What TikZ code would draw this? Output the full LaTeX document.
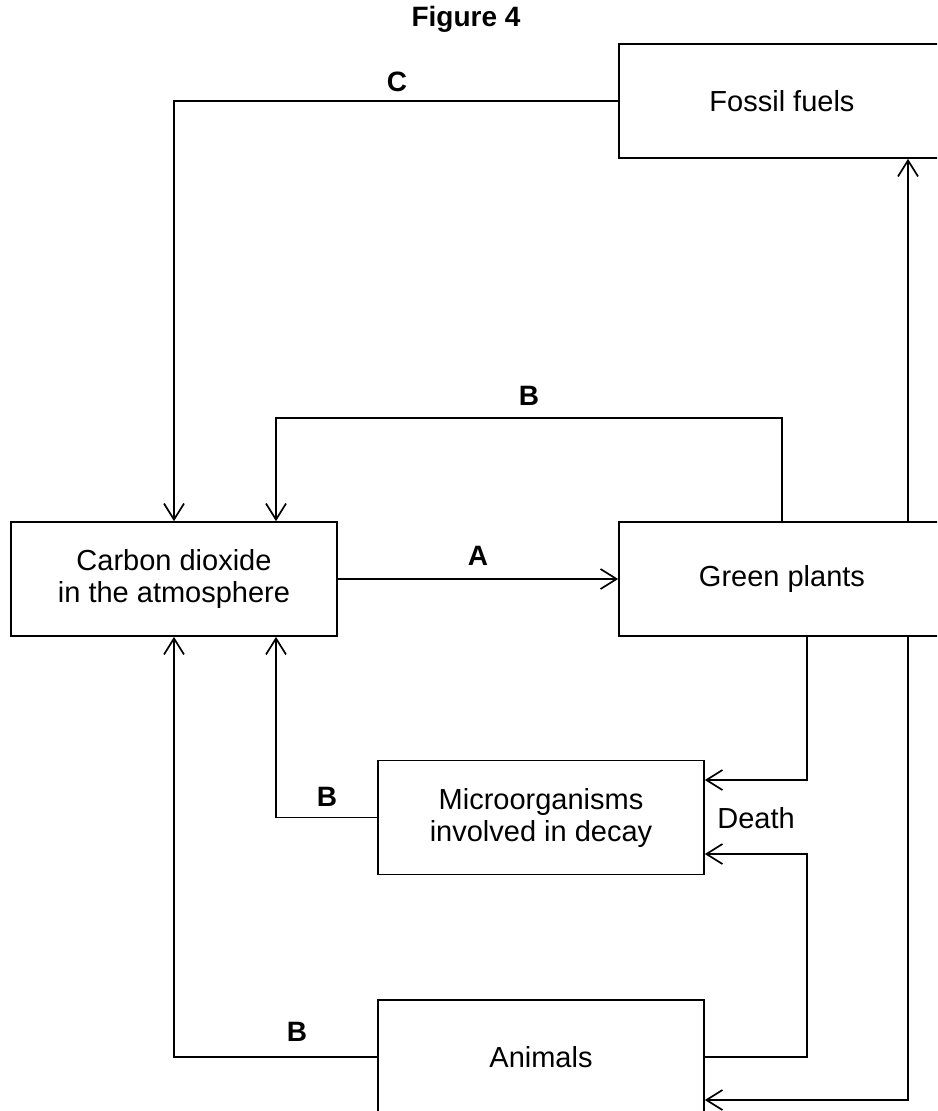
\documentclass[tikz,border=0pt]{standalone}
\usepackage{fontspec}
\setmainfont{Liberation Sans}
\usetikzlibrary{arrows.meta}
\begin{document}
\begin{tikzpicture}[x=1pt,y=-1pt,
  box/.style={draw,line width=1.7pt,minimum width=326pt,minimum height=114pt,align=center,inner sep=0pt,
    font=\fontsize{29}{32}\selectfont},
  conn/.style={line width=1.7pt},
  arr/.style={conn,-{Straight Barb[length=16pt,width=20pt,line width=1.7pt]}},
  lab/.style={font=\fontsize{28}{32}\selectfont\bfseries,inner sep=0pt},
  plain/.style={font=\fontsize{29}{33}\selectfont,inner sep=0pt}]
\useasboundingbox (0,0) rectangle (937,1111);
\clip (0,0) rectangle (937,1111);
\fill[white] (0,0) rectangle (937,1111);
% nodes
\node[box] (fossil) at (782,101) {Fossil fuels};
\node[box] (co2) at (174,579) {Carbon dioxide\\in the atmosphere};
\node[box] (green) at (782,579) {Green plants};
\node[box] (micro) at (541,817.5) {Microorganisms\\involved in decay};
\node[box] (animals) at (541,1057) {Animals};
% helper coordinates
\coordinate (xb) at (276,418);
\coordinate (xr) at (908,0);
\coordinate (gd) at (807,780);
\coordinate (ad) at (807,854);
\coordinate (gr) at (908,1100);
% connectors
\draw[arr] (fossil.west) -| (co2.north);
\draw[arr] (green.north) |- (xb) -- (xb |- co2.north);
\draw[arr] (co2.east) -- (green.west);
\draw[arr] (green.north -| xr) -- (fossil.south -| xr);
\draw[arr] (green.south -| gd) -- (gd) -- (gd -| micro.east);
\draw[arr] (animals.east) -| (ad) -- (ad -| micro.east);
\draw[arr] (green.south -| gr) -- (gr) -- (gr -| animals.east);
\draw[arr] (micro.west) -| (xb |- co2.south);
\draw[arr] (animals.west) -| (co2.south);
% labels
\node[lab] (title) at (466,19) {Figure 4};
\node[lab] (lc) at (397,82) {C};
\node[lab] (lb1) at (529,396) {B};
\node[lab] (la) at (478,556) {A};
\node[lab] (lb2) at (327,797) {B};
\node[lab] (lb3) at (297,1032) {B};
\node[plain] (death) at (756,818) {Death};
\end{tikzpicture}
\end{document}
